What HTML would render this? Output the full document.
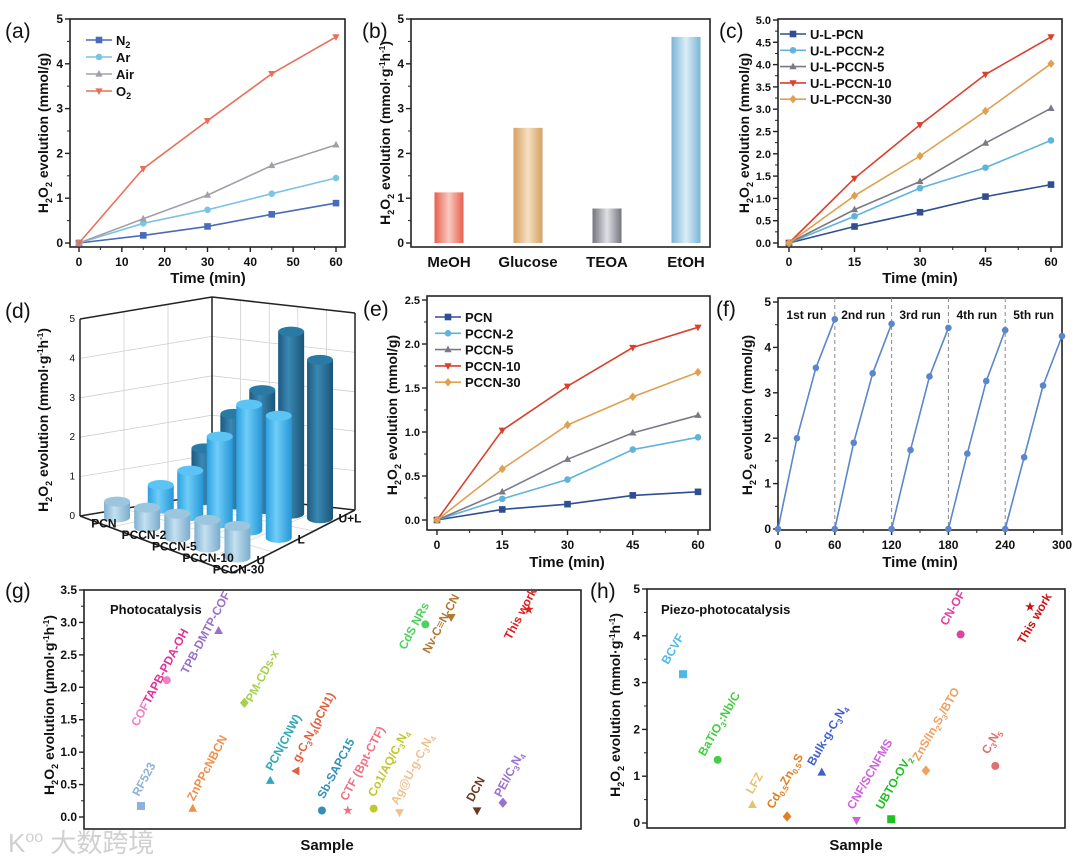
<!DOCTYPE html>
<html><head><meta charset="utf-8">
<style>body{margin:0;background:#fff}svg{display:block;font-family:"Liberation Sans","Noto Sans CJK SC",sans-serif}</style>
</head><body>
<svg id="fig" width="1080" height="859" viewBox="0 0 1080 859" xmlns="http://www.w3.org/2000/svg">
<defs>
<linearGradient id="gMeOH" x1="0" x2="1"><stop offset="0" stop-color="#e8604e"/><stop offset="0.5" stop-color="#f9c9c0"/><stop offset="1" stop-color="#e8604e"/></linearGradient>
<linearGradient id="gGlu" x1="0" x2="1"><stop offset="0" stop-color="#d6a060"/><stop offset="0.5" stop-color="#f5e0c4"/><stop offset="1" stop-color="#d6a060"/></linearGradient>
<linearGradient id="gTEOA" x1="0" x2="1"><stop offset="0" stop-color="#74747e"/><stop offset="0.5" stop-color="#e0e0e6"/><stop offset="1" stop-color="#74747e"/></linearGradient>
<linearGradient id="gEtOH" x1="0" x2="1"><stop offset="0" stop-color="#7ab4d6"/><stop offset="0.5" stop-color="#dceef7"/><stop offset="1" stop-color="#7ab4d6"/></linearGradient>
<linearGradient id="cU" x1="0" x2="1"><stop offset="0" stop-color="#7fb0cf"/><stop offset="0.4" stop-color="#c4e0f0"/><stop offset="1" stop-color="#7aaccc"/></linearGradient>
<linearGradient id="cL" x1="0" x2="1"><stop offset="0" stop-color="#2aa0e0"/><stop offset="0.4" stop-color="#70cdf8"/><stop offset="1" stop-color="#2596d6"/></linearGradient>
<linearGradient id="cUL" x1="0" x2="1"><stop offset="0" stop-color="#1d5a80"/><stop offset="0.4" stop-color="#3a88b4"/><stop offset="1" stop-color="#1b5578"/></linearGradient>
</defs>
</svg>
<script>
const NS='http://www.w3.org/2000/svg';
const svg=document.getElementById('fig');

// ---- data ----
const aTimes=[0,15,30,45,60];
const aN2=[0,0.17,0.37,0.64,0.89];
const aAr=[0,0.44,0.74,1.1,1.45];
const aAir=[0,0.54,1.07,1.73,2.19];
const aO2=[0,1.66,2.73,3.78,4.6];
const bCats=['MeOH','Glucose','TEOA','EtOH'];
const bVals=[1.13,2.57,0.77,4.6];
const cTimes=[0,15,30,45,60];
const cPCN=[0,0.37,0.69,1.04,1.31];
const cP2=[0,0.6,1.23,1.69,2.3];
const cP5=[0,0.75,1.38,2.24,3.02];
const cP10=[0,1.45,2.65,3.78,4.62];
const cP30=[0,1.06,1.95,2.96,4.02];
const dCats=['PCN','PCCN-2','PCCN-5','PCCN-10','PCCN-30'];
const dSeries=['U','L','U+L'];
const dU=[0.4,0.5,0.6,0.7,0.8];
const dL=[0.6,1.15,2.2,3.2,3.1];
const dUL=[1.31,2.3,3.02,4.62,4.02];
const eTimes=[0,15,30,45,60];
const ePCN=[0,0.12,0.18,0.28,0.32];
const eP2=[0,0.24,0.46,0.8,0.94];
const eP5=[0,0.32,0.69,0.99,1.19];
const eP10=[0,1.02,1.52,1.96,2.19];
const eP30=[0,0.58,1.08,1.4,1.68];
const fRunT=[0,20,40,60];
const fRuns=[[0,2.0,3.55,4.62],[0,1.9,3.43,4.52],[0,1.74,3.36,4.43],[0,1.66,3.26,4.38],[0,1.58,3.16,4.25]];
const fRunLabels=['1st run','2nd run','3rd run','4th run','5th run'];
const gNames=['RF523','COF<tspan fill="#e0309a">TAPB-PDA-OH</tspan>','ZnPPcNBCN','TPB-DMTP-COF','PM-CDs-x','PCN(CNW)','g-C<tspan font-size="8" dy="3">3</tspan><tspan dy="-3">N</tspan><tspan font-size="8" dy="3">4</tspan><tspan dy="-3">(pCN1)</tspan>','Sb-SAPC15','CTF (Bpt-CTF)','Co1/AQ/C<tspan font-size="8" dy="3">3</tspan><tspan dy="-3">N</tspan><tspan font-size="8" dy="3">4</tspan>','Ag@U-g-C<tspan font-size="8" dy="3">3</tspan><tspan dy="-3">N</tspan><tspan font-size="8" dy="3">4</tspan>','CdS NRs','Nv-C≡N-CN','DCN','PEI/C<tspan font-size="8" dy="3">3</tspan><tspan dy="-3">N</tspan><tspan font-size="8" dy="3">4</tspan>','This work'];
const gVals=[0.17,2.11,0.13,2.87,1.76,0.56,0.71,0.1,0.1,0.13,0.07,2.97,3.08,0.1,0.22,3.2];
const gShapes=['sq','ci','tu','tu','di','tu','tl','ci','st','ci','td','ci','td','td','di','st'];
const gColors=['#8fb0d8','#f080c0','#f0904a','#9a70c8','#a8d050','#30a8b8','#e06040','#3090b8','#f07080','#c0c830','#f0c090','#50d060','#b07830','#6a3a20','#9a70d0','#e02020'];
const gOff=[[-2,-9],[-29,47],[1,-7],[-31,44],[8,0],[2,-9],[3,-8],[2,-11],[-1,-9],[1,-11],[-2,-7],[-20,26],[-22,37],[-4,-8],[-2,-5],[-18,31]];
const hNames=['BCVF','BaTiO<tspan font-size="8" dy="3">3</tspan><tspan dy="-3">:Nb/C</tspan>','LFZ','Cd<tspan font-size="8" dy="3">0.5</tspan><tspan dy="-3">Zn</tspan><tspan font-size="8" dy="3">0.5</tspan><tspan dy="-3">S</tspan>','Bulk-g-C<tspan font-size="8" dy="3">3</tspan><tspan dy="-3">N</tspan><tspan font-size="8" dy="3">4</tspan>','CNF/SCNFMS','UBTO-OV<tspan font-size="8" dy="3">2</tspan>','ZnS/In<tspan font-size="8" dy="3">2</tspan><tspan dy="-3">S</tspan><tspan font-size="8" dy="3">3</tspan><tspan dy="-3">/BTO</tspan>','CN-OF','C<tspan font-size="8" dy="3">3</tspan><tspan dy="-3">N</tspan><tspan font-size="8" dy="3">5</tspan>','This work'];
const hVals=[3.18,1.35,0.39,0.14,1.08,0.06,0.08,1.12,4.03,1.22,4.62];
const hShapes=['sq','ci','tu','di','tu','td','sq','di','ci','ci','st'];
const hColors=['#50b8e8','#40d040','#e8c070','#e08020','#4060d0','#d060e0','#20c020','#f0a060','#e040a0','#e07070','#d01010'];
const hOff=[[-15,-9],[-13,-3],[0,-10],[-14,-7],[-8,-6],[-3,-10],[-9,-9],[-7,-9],[-14,-8],[-7,-11],[-6,38]];

// ---- helpers ----
function mk(tag,attrs,name,parent){
  const e=document.createElementNS(NS,tag);
  for(const k in attrs)e.setAttribute(k,attrs[k]);
  
  
  (parent||svg).appendChild(e);return e;
}
function txt(x,y,html,attrs,name,parent){
  const a=Object.assign({x:x,y:y,fill:'#111'},attrs||{});
  const t=mk('text',a,name,parent);t.innerHTML=html;return t;
}
function lin(d0,d1,r0,r1){return v=>r0+(v-d0)/(d1-d0)*(r1-r0);}
function group(name){return mk('g',{},name);}
function marker(shape,x,y,s,color,name,parent){
  const p=parent;
  if(shape==='sq')return mk('rect',{x:x-s,y:y-s,width:2*s,height:2*s,fill:color},name,p);
  if(shape==='ci')return mk('circle',{cx:x,cy:y,r:s,fill:color},name,p);
  if(shape==='tu')return mk('polygon',{points:`${x},${y-s*1.2} ${x-s*1.1},${y+s*0.8} ${x+s*1.1},${y+s*0.8}`,fill:color},name,p);
  if(shape==='td')return mk('polygon',{points:`${x},${y+s*1.2} ${x-s*1.1},${y-s*0.8} ${x+s*1.1},${y-s*0.8}`,fill:color},name,p);
  if(shape==='tl')return mk('polygon',{points:`${x-s*1.2},${y} ${x+s*0.8},${y-s*1.1} ${x+s*0.8},${y+s*1.1}`,fill:color},name,p);
  if(shape==='di')return mk('polygon',{points:`${x},${y-s*1.3} ${x+s*1.1},${y} ${x},${y+s*1.3} ${x-s*1.1},${y}`,fill:color},name,p);
  if(shape==='st'){let pts=[];for(let k=0;k<10;k++){const r=k%2?s*0.5:s*1.3;const a=-Math.PI/2+k*Math.PI/5;pts.push((x+r*Math.cos(a)).toFixed(1)+','+(y+r*Math.sin(a)).toFixed(1));}
    return mk('polygon',{points:pts.join(' '),fill:color},name,p);}
}
const H2O2='H<tspan font-size="9" dy="4">2</tspan><tspan dy="-4">O</tspan><tspan font-size="9" dy="4">2</tspan><tspan dy="-4"> evolution </tspan>';
const RATE='(mmol·g<tspan font-size="8" dy="-5">-1</tspan><tspan dy="5">h</tspan><tspan font-size="8" dy="-5">-1</tspan><tspan dy="5">)</tspan>';
function ytitle(x,y,html,name,size){
  return txt(0,0,html,{transform:`translate(${x},${y}) rotate(-90)`,'text-anchor':'middle','font-size':size||14,'font-weight':'bold'},name);
}
function frame(g,box,name){mk('rect',{x:box.l,y:box.t,width:box.r-box.l,height:box.b-box.t,fill:'none',stroke:'#222','stroke-width':1.6},name,g);}
function yAxis(g,box,ys,ticks,fmt,minor,fs){
  ticks.forEach(v=>{const y=ys(v);
    mk('line',{x1:box.l-5,x2:box.l,y1:y,y2:y,stroke:'#222','stroke-width':1.4},'y-tick',g);
    txt(box.l-7,y+4,fmt(v),{'text-anchor':'end','font-size':fs||12,'font-weight':'bold'},'y-tick-label',g);});
  if(minor)for(let i=0;i<ticks.length-1;i++){const y=ys((ticks[i]+ticks[i+1])/2);
    mk('line',{x1:box.l-3,x2:box.l,y1:y,y2:y,stroke:'#222','stroke-width':1},'y-minor-tick',g);}
}
function xAxis(g,box,xs,ticks,fmt,minor){
  ticks.forEach(v=>{const x=xs(v);
    mk('line',{x1:x,x2:x,y1:box.b,y2:box.b+5,stroke:'#222','stroke-width':1.4},'x-tick',g);
    txt(x,box.b+19,fmt(v),{'text-anchor':'middle','font-size':12,'font-weight':'bold'},'x-tick-label',g);});
  if(minor)for(let i=0;i<ticks.length-1;i++){const x=xs((ticks[i]+ticks[i+1])/2);
    mk('line',{x1:x,x2:x,y1:box.b,y2:box.b+3,stroke:'#222','stroke-width':1},'x-minor-tick',g);}
}
function series(g,xs,ys,tv,vals,color,shape,name){
  const pts=tv.map((t,i)=>xs(t).toFixed(1)+','+ys(vals[i]).toFixed(1)).join(' ');
  mk('polyline',{points:pts,fill:'none',stroke:color,'stroke-width':1.6},name+'-line',g);
  tv.forEach((t,i)=>marker(shape,xs(t),ys(vals[i]),3.3,color,name+'-point',g));
}
function legend(g,x,y,dy,items){
  items.forEach((it,i)=>{const yy=y+i*dy;
    mk('line',{x1:x,x2:x+26,y1:yy,y2:yy,stroke:it[1],'stroke-width':1.6},'legend-line',g);
    marker(it[2],x+13,yy,3.3,it[1],'legend-marker',g);
    txt(x+30,yy+5,it[0],{'font-size':13,'font-weight':'bold'},'legend-entry',g);});
}
function panelLabel(x,y,s){txt(x,y,s,{'font-size':21},'panel-label-'+s.replace(/[()]/g,''));}
const range=(a,b,s)=>{const r=[];for(let v=a;v<=b+1e-9;v+=s)r.push(+v.toFixed(4));return r;};

// ---- panel a ----
{const g=group('panel-a');const box={l:70,r:345,t:19,b:247};
 const xs=lin(0,60,79,336),ys=lin(0,5,243,19);
 frame(g,box,'plot-frame-a');yAxis(g,box,ys,range(0,5,1),v=>v,true);xAxis(g,box,xs,range(0,60,10),v=>v,true);
 series(g,xs,ys,aTimes,aN2,'#4a6cb8','sq','series-n2');
 series(g,xs,ys,aTimes,aAr,'#7cc4e2','ci','series-ar');
 series(g,xs,ys,aTimes,aAir,'#a0a0aa','tu','series-air');
 series(g,xs,ys,aTimes,aO2,'#e8705a','td','series-o2');
 legend(g,86,40,17,[['N<tspan font-size="9" dy="3">2</tspan>','#4a6cb8','sq'],['Ar','#7cc4e2','ci'],['Air','#a0a0aa','tu'],['O<tspan font-size="9" dy="3">2</tspan>','#e8705a','td']]);
 txt(208,283,'Time (min)',{'text-anchor':'middle','font-size':15,'font-weight':'bold'},'x-axis-title-a',g);
 ytitle(48,133,H2O2+'(mmol/g)','y-axis-title-a');
 panelLabel(5,38,'(a)');}

// ---- panel b ----
{const g=group('panel-b');const box={l:411,r:710,t:19,b:247};
 const ys=lin(0,5,243,19);const bx=i=>449+i*79;const grads=['gMeOH','gGlu','gTEOA','gEtOH'];
 frame(g,box,'plot-frame-b');yAxis(g,box,ys,range(0,5,1),v=>v,true);
 bCats.forEach((c,i)=>{mk('rect',{x:bx(i)-14.5,y:ys(bVals[i]),width:29,height:ys(0)-ys(bVals[i]),fill:`url(#${grads[i]})`},'bar-'+c.toLowerCase(),g);
   txt(bx(i),267,c,{'text-anchor':'middle','font-size':15,'font-weight':'bold'},'x-category-label',g);});
 ytitle(390,133,H2O2+RATE,'y-axis-title-b');
 panelLabel(362,38,'(b)');}

// ---- panel c ----
{const g=group('panel-c');const box={l:778,r:1062,t:19,b:247};
 const xs=lin(0,60,789,1051),ys=lin(0,5,243,20);
 frame(g,box,'plot-frame-c');yAxis(g,box,ys,range(0,5,0.5),v=>v.toFixed(1),true,11);xAxis(g,box,xs,range(0,60,15),v=>v,true);
 series(g,xs,ys,cTimes,cPCN,'#2f4f90','sq','series-u-l-pcn');
 series(g,xs,ys,cTimes,cP2,'#5fb3dd','ci','series-u-l-pccn-2');
 series(g,xs,ys,cTimes,cP5,'#7a7a86','tu','series-u-l-pccn-5');
 series(g,xs,ys,cTimes,cP10,'#d9412e','td','series-u-l-pccn-10');
 series(g,xs,ys,cTimes,cP30,'#e0a050','di','series-u-l-pccn-30');
 legend(g,780,34,16.3,[['U-L-PCN','#2f4f90','sq'],['U-L-PCCN-2','#5fb3dd','ci'],['U-L-PCCN-5','#7a7a86','tu'],['U-L-PCCN-10','#d9412e','td'],['U-L-PCCN-30','#e0a050','di']]);
 txt(920,283,'Time (min)',{'text-anchor':'middle','font-size':15,'font-weight':'bold'},'x-axis-title-c',g);
 ytitle(749,133,H2O2+'(mmol/g)','y-axis-title-c');
 panelLabel(719,38,'(c)');}

// ---- panel d (3D bars) ----
{const g=group('panel-d');
 const Lc={x:80,y:516},F={x:232,y:573},B={x:212,y:494},Rc={x:355,y:510};const HU=39.4;
 const P=(u,v)=>({x:(1-u)*(1-v)*Lc.x+u*(1-v)*F.x+(1-u)*v*B.x+u*v*Rc.x,y:(1-u)*(1-v)*Lc.y+u*(1-v)*F.y+(1-u)*v*B.y+u*v*Rc.y});
 const line=(p,q,st,w,nm,dh1,dh2)=>mk('line',{x1:p.x,y1:p.y-(dh1||0),x2:q.x,y2:q.y-(dh2||0),stroke:st,'stroke-width':w},nm,g);
 for(let k=1;k<=5;k++){line(Lc,B,'#cfcfcf',0.8,'wall-grid',k*HU,k*HU);line(B,Rc,'#cfcfcf',0.8,'wall-grid',k*HU,k*HU);}
 for(let k=1;k<3;k++){const p=P(0,k/3);line(p,p,'#cfcfcf',0.8,'wall-grid',0,5*HU);line(p,P(1,k/3),'#d8d8d8',0.8,'floor-grid');}
 for(let k=1;k<5;k++){const p=P(k/5,1);line(p,p,'#cfcfcf',0.8,'wall-grid',0,5*HU);line(P(k/5,0),p,'#d8d8d8',0.8,'floor-grid');}
 line(Lc,B,'#222',1.5,'floor-edge');line(B,Rc,'#222',1.5,'floor-edge');
 line(Lc,Lc,'#222',1.5,'z-axis',0,5*HU);line(B,B,'#222',1.5,'z-axis',0,5*HU);line(Rc,Rc,'#222',1.5,'z-axis',0,5*HU);
 line(Lc,B,'#222',1.5,'top-edge',5*HU,5*HU);line(B,Rc,'#222',1.5,'top-edge',5*HU,5*HU);
 for(let k=0;k<=5;k++)txt(Lc.x-5,Lc.y-k*HU+3,k,{'text-anchor':'end','font-size':10},'z-tick-label',g);
 const sets=[dU,dL,dUL],fills=['url(#cU)','url(#cL)','url(#cUL)'],tops=['#9cc6de','#5cc4f4','#2a7aa6'],nm=['u','l','u-l'];
 for(let j=2;j>=0;j--)for(let i=0;i<5;i++){
   const c=P((i+0.5)/5,(j+0.5)/3),h=sets[j][i]*HU,rx=13,ry=5;
   mk('path',{d:`M${c.x-rx},${c.y-h} L${c.x-rx},${c.y} A${rx},${ry} 0 0 0 ${c.x+rx},${c.y} L${c.x+rx},${c.y-h} Z`,fill:fills[j]},'bar-'+dCats[i].toLowerCase()+'-'+nm[j],g);
   mk('ellipse',{cx:c.x,cy:c.y-h,rx:rx,ry:ry,fill:tops[j]},'bar-top',g);}
 line(Lc,F,'#222',1.6,'category-axis');line(F,Rc,'#222',1.6,'series-axis');
 dCats.forEach((c,i)=>{const p=P((i+0.5)/5,0);txt(p.x-4,p.y+6,c,{'font-size':12,'font-weight':'bold'},'category-label',g);});
 dSeries.forEach((s,j)=>{const p=P(1,(j+0.5)/3);txt(p.x+4,p.y+2,s,{'font-size':12,'font-weight':'bold'},'series-label',g);});
 ytitle(48,420,H2O2+RATE,'y-axis-title-d');
 panelLabel(5,318,'(d)');}

// ---- panel e ----
{const g=group('panel-e');const box={l:427,r:710,t:296,b:530};
 const xs=lin(0,60,437,698),ys=lin(0,2.5,520,300);
 frame(g,box,'plot-frame-e');yAxis(g,box,ys,range(0,2.5,0.5),v=>v.toFixed(1),true,11);xAxis(g,box,xs,range(0,60,15),v=>v,true);
 series(g,xs,ys,eTimes,ePCN,'#2f4f90','sq','series-pcn');
 series(g,xs,ys,eTimes,eP2,'#5fb3dd','ci','series-pccn-2');
 series(g,xs,ys,eTimes,eP5,'#7a7a86','tu','series-pccn-5');
 series(g,xs,ys,eTimes,eP10,'#d9412e','td','series-pccn-10');
 series(g,xs,ys,eTimes,eP30,'#e0a050','di','series-pccn-30');
 legend(g,435,317,16.3,[['PCN','#2f4f90','sq'],['PCCN-2','#5fb3dd','ci'],['PCCN-5','#7a7a86','tu'],['PCCN-10','#d9412e','td'],['PCCN-30','#e0a050','di']]);
 txt(567,567,'Time (min)',{'text-anchor':'middle','font-size':15,'font-weight':'bold'},'x-axis-title-e',g);
 ytitle(397,415,H2O2+'(mmol/g)','y-axis-title-e');
 panelLabel(363,316,'(e)');}

// ---- panel f ----
{const g=group('panel-f');const box={l:778,r:1062,t:298,b:530};
 const xs=lin(0,300,778,1062),ys=lin(0,5,529,302);
 frame(g,box,'plot-frame-f');yAxis(g,box,ys,range(0,5,1),v=>v,true);xAxis(g,box,xs,range(0,300,60),v=>v,true);
 for(let r=1;r<5;r++)mk('line',{x1:xs(r*60),x2:xs(r*60),y1:box.t,y2:box.b,stroke:'#888','stroke-dasharray':'4,3','stroke-width':1},'run-divider',g);
 fRuns.forEach((run,r)=>{const tt=fRunT.map(t=>t+r*60);series(g,xs,ys,tt,run,'#5b86cc','ci','series-run-'+(r+1));
   txt(xs(r*60+30),319,fRunLabels[r],{'text-anchor':'middle','font-size':12,'font-weight':'bold'},'run-label',g);});
 txt(920,567,'Time (min)',{'text-anchor':'middle','font-size':15,'font-weight':'bold'},'x-axis-title-f',g);
 ytitle(752,415,H2O2+'(mmol/g)','y-axis-title-f');
 panelLabel(716,316,'(f)');}

// ---- panel g ----
{const g=group('panel-g');const box={l:84,r:581,t:590,b:829};
 const ys=lin(0,3.5,817,590);const gx=i=>141+i*25.85;
 frame(g,box,'plot-frame-g');yAxis(g,box,ys,range(0,3.5,0.5),v=>v.toFixed(1),true);
 gVals.forEach((v,i)=>{const x=gx(i),y=ys(v);marker(gShapes[i],x,y,4,gColors[i],'sample-point',g);
   txt(0,0,gNames[i],{transform:`translate(${x+gOff[i][0]},${y+gOff[i][1]}) rotate(-62)`,fill:gColors[i],'font-size':12,'font-weight':'bold'},'sample-label',g);});
 txt(110,614,'Photocatalysis',{'font-size':13,'font-weight':'bold'},'panel-title-g',g);
 txt(327,850,'Sample',{'text-anchor':'middle','font-size':15,'font-weight':'bold'},'x-axis-title-g',g);
 ytitle(54,705,H2O2+'(μmol·g<tspan font-size="8" dy="-5">-1</tspan><tspan dy="5">h</tspan><tspan font-size="8" dy="-5">-1</tspan><tspan dy="5">)</tspan>','y-axis-title-g');
 panelLabel(5,598,'(g)');}

// ---- panel h ----
{const g=group('panel-h');const box={l:647,r:1065,t:589,b:828};
 const ys=lin(0,5,823,589);const hx=i=>683+i*34.7;
 frame(g,box,'plot-frame-h');yAxis(g,box,ys,range(0,5,1),v=>v,true);
 hVals.forEach((v,i)=>{const x=hx(i),y=ys(v);marker(hShapes[i],x,y,4,hColors[i],'sample-point',g);
   txt(0,0,hNames[i],{transform:`translate(${x+hOff[i][0]},${y+hOff[i][1]}) rotate(-60)`,fill:hColors[i],'font-size':12,'font-weight':'bold'},'sample-label',g);});
 txt(661,614,'Piezo-photocatalysis',{'font-size':13,'font-weight':'bold'},'panel-title-h',g);
 txt(856,850,'Sample',{'text-anchor':'middle','font-size':15,'font-weight':'bold'},'x-axis-title-h',g);
 ytitle(620,705,H2O2+RATE,'y-axis-title-h');
 panelLabel(590,598,'(h)');}

// watermark
txt(8,852,'K<tspan font-size="16" dy="-10">oo</tspan><tspan dy="10"> 大数跨境</tspan>',{fill:'#d0d0d0','font-size':26},'watermark');
</script>
</body></html>
